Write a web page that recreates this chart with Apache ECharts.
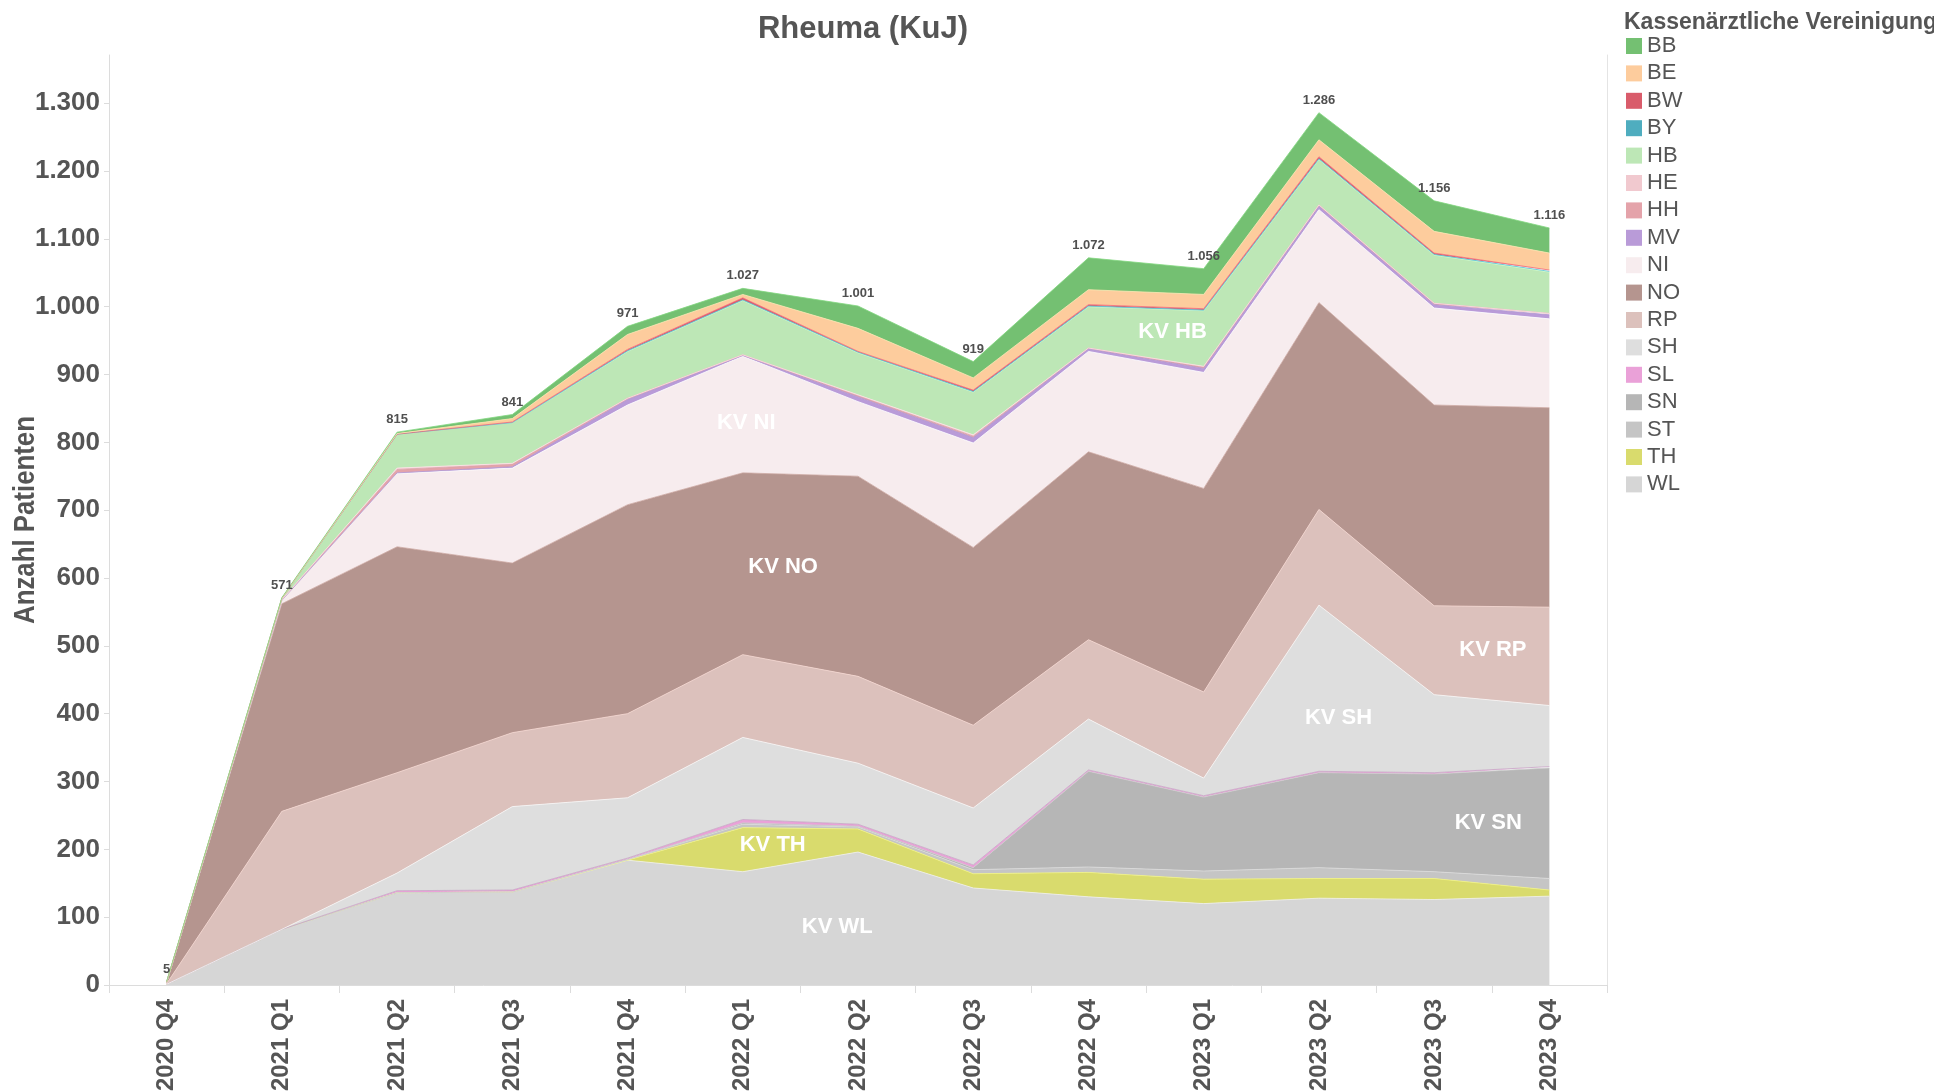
<!DOCTYPE html>
<html>
<head>
<meta charset="utf-8">
<title>Rheuma (KuJ)</title>
<script src="https://cdn.jsdelivr.net/npm/echarts@6/dist/echarts.min.js"></script>
<style>
  html, body { margin: 0; padding: 0; background: #ffffff; }
  #chart { width: 1934px; height: 1092px; }
</style>
</head>
<body>
<div id="chart"></div>
<script>
// Quarters on the x axis
const quarters = ['2020 Q4', '2021 Q1', '2021 Q2', '2021 Q3', '2021 Q4', '2022 Q1', '2022 Q2',
                  '2022 Q3', '2022 Q4', '2023 Q1', '2023 Q2', '2023 Q3', '2023 Q4'];

// Patients per Kassenärztliche Vereinigung and quarter
const WL = [1, 82, 136, 137, 184, 167, 196, 143, 130, 120, 128, 126, 131];
const TH = [0, 0, 0, 0, 0, 65, 34, 21, 36, 36, 29, 31, 9];
const ST = [0, 0, 0, 0, 1, 5, 3, 6, 8, 12, 16, 10, 17];
const SN = [0, 0, 0, 0, 0, 2, 1, 3, 141, 109, 140, 144, 163];
const SL = [0, 0, 3, 3, 2, 5, 3, 4, 2, 2, 2, 2, 2];
const SH = [0, 0, 26, 123, 89, 121, 90, 84, 75, 26, 245, 115, 90];
const RP = [1, 174, 148, 109, 124, 122, 128, 122, 117, 127, 141, 131, 145];
const NO = [2, 306, 333, 250, 308, 268, 295, 262, 277, 300, 305, 296, 294];
const NI = [0, 5, 108, 140, 147, 172, 110, 154, 148, 171, 137, 143, 131];
const MV = [0, 0, 1, 2, 8, 1, 7, 8, 4, 6, 5, 5, 6];
const HH = [0, 1, 5, 4, 2, 1, 2, 2, 1, 2, 2, 2, 2];
const HE = [0, 0, 2, 1, 0, 0, 1, 2, 0, 1, 0, 0, 0];
const HB = [0, 2, 50, 60, 69, 80, 62, 63, 61, 82, 67, 71, 61];
const BY = [0, 0, 0, 0, 1, 1, 1, 1, 1, 1, 1, 1, 1];
const BW = [0, 0, 0, 1, 2, 3, 1, 2, 2, 2, 3, 2, 2];
const BE = [0, 0, 1, 5, 22, 5, 34, 18, 22, 21, 25, 32, 25];
const BB = [1, 1, 2, 6, 12, 9, 33, 24, 47, 38, 40, 45, 37];

// Y axis ticks
const yTicks = [0, 100, 200, 300, 400, 500, 600, 700, 800, 900, 1000, 1100, 1200, 1300];

// Stacking order, bottom to top
const stackOrder = [
  ['WL', WL], ['TH', TH], ['ST', ST], ['SN', SN], ['SL', SL], ['SH', SH], ['RP', RP],
  ['NO', NO], ['NI', NI], ['MV', MV], ['HH', HH], ['HE', HE], ['HB', HB], ['BY', BY],
  ['BW', BW], ['BE', BE], ['BB', BB]
];

// Legend lists the regions alphabetically
const legendOrder = ['BB', 'BE', 'BW', 'BY', 'HB', 'HE', 'HH', 'MV', 'NI', 'NO', 'RP', 'SH', 'SL', 'SN', 'ST', 'TH', 'WL'];

const kvColors = {
  BB: '#74c072', BE: '#fdcc9d', BW: '#d95c6b', BY: '#4fadbf', HB: '#bde7b6', HE: '#f1c9cf',
  HH: '#e4a3aa', MV: '#b99bd8', NI: '#f7ecee', NO: '#b5958f', RP: '#dcc1bc', SH: '#dedede',
  SL: '#eaa1d8', SN: '#b6b6b6', ST: '#c5c5c5', TH: '#d9db6d', WL: '#d6d6d6'
};

// Edge colours where a thin band needs a softer outline
const edgeColors = { SL: '#c7a3c4', HH: '#d9a3ab', MV: '#b196cf' };

// In-area region names, placed at [category position, value]
const areaNotes = [
  { text: 'KV NI', at: 5.03, value: 829 },
  { text: 'KV NO', at: 5.35, value: 617 },
  { text: 'KV TH', at: 5.26, value: 206 },
  { text: 'KV WL', at: 5.82, value: 86 },
  { text: 'KV HB', at: 8.73, value: 963 },
  { text: 'KV SH', at: 10.17, value: 394 },
  { text: 'KV RP', at: 11.51, value: 494 },
  { text: 'KV SN', at: 11.47, value: 239 }
];

const FONT = "'Liberation Sans', Arial, Helvetica, sans-serif";
const TEXT = '#555555';
const Y_MAX = 1371;

const totals = quarters.map((_, i) => stackOrder.reduce((s, [, arr]) => s + arr[i], 0));
const fmtDE = v => String(v).replace(/\B(?=(\d{3})+(?!\d))/g, '.');

const series = stackOrder.map(([name, values], idx) => {
  const isTop = idx === stackOrder.length - 1;
  return {
    name: name,
    type: 'line',
    stack: 'kv',
    data: values,
    color: kvColors[name],
    symbol: isTop ? 'circle' : 'none',
    symbolSize: 0,
    showSymbol: isTop,
    lineStyle: { width: 0.8, color: edgeColors[name] || echarts.color.lift(kvColors[name], -0.12) },
    areaStyle: { color: kvColors[name], opacity: 1 },
    emphasis: { disabled: true },
    label: isTop ? {
      show: true,
      position: 'top',
      distance: 6,
      fontFamily: FONT,
      fontSize: 13,
      fontWeight: 'bold',
      color: '#505050',
      formatter: p => fmtDE(totals[p.dataIndex])
    } : { show: false }
  };
});

const chart = echarts.init(document.getElementById('chart'), null, { renderer: 'canvas' });

chart.setOption({
  animation: false,
  backgroundColor: '#ffffff',
  textStyle: { fontFamily: FONT },
  title: [
    {
      text: 'Rheuma (KuJ)',
      left: 858,
      top: 9,
      textAlign: 'center',
      textStyle: { fontFamily: FONT, fontSize: 31, fontWeight: 'bold', color: TEXT }
    },
    {
      text: 'Kassenärztliche Vereinigung',
      left: 1619,
      top: 6,
      textStyle: { fontFamily: FONT, fontSize: 23, fontWeight: 'bold', color: TEXT }
    }
  ],
  legend: {
    orient: 'vertical',
    left: 1621,
    top: 30,
    icon: 'rect',
    itemWidth: 16,
    itemHeight: 16,
    itemGap: 5.4,
    selectedMode: false,
    data: legendOrder,
    itemStyle: { borderWidth: 0 },
    textStyle: { fontFamily: FONT, fontSize: 22, color: TEXT, padding: [0, 0, 0, 0] }
  },
  grid: {
    left: 109, right: 327, top: 55, bottom: 107,
    containLabel: false,
    outerBoundsMode: 'none'
  },
  xAxis: {
    type: 'category',
    data: quarters,
    boundaryGap: true,
    axisLine: { lineStyle: { color: '#dcdcdc', width: 1 } },
    axisTick: { show: true, length: 8, lineStyle: { color: '#dcdcdc' } },
    axisLabel: {
      rotate: 90,
      margin: 14,
      interval: 0,
      fontFamily: FONT,
      fontSize: 24,
      fontWeight: 'bold',
      color: TEXT
    },
    splitLine: { show: false }
  },
  yAxis: [
    {
      type: 'value',
      min: 0,
      max: Y_MAX,
      interval: 100,
      axisLine: { show: true, lineStyle: { color: '#dcdcdc', width: 1 } },
      axisTick: { show: true, length: 5, lineStyle: { color: '#dcdcdc' } },
      axisLabel: {
        margin: 9,
        showMaxLabel: false,
        fontFamily: FONT,
        fontSize: 26,
        fontWeight: 'bold',
        color: TEXT,
        formatter: v => (yTicks.includes(v) ? fmtDE(v) : '')
      },
      splitLine: { show: false }
    },
    {
      type: 'value',
      min: 0,
      max: Y_MAX,
      position: 'right',
      axisLine: { show: true, lineStyle: { color: '#e4e4e4', width: 1 } },
      axisTick: { show: false },
      axisLabel: { show: false },
      splitLine: { show: false }
    }
  ],
  series: series
});

// Pixel position of a fractional category index and a value
const px = (at, value) => {
  const i0 = Math.floor(at), i1 = Math.min(i0 + 1, quarters.length - 1);
  const f = at - i0;
  const p0 = chart.convertToPixel({ gridIndex: 0 }, [i0, value]);
  const p1 = chart.convertToPixel({ gridIndex: 0 }, [i1, value]);
  return [p0[0] + (p1[0] - p0[0]) * f, p0[1]];
};

// Region names inside their areas
const notes = areaNotes.map(n => {
  const [x, y] = px(n.at, n.value);
  return {
    type: 'text',
    x: x,
    y: y,
    z: 100,
    silent: true,
    style: {
      text: n.text,
      fill: '#ffffff',
      fontFamily: FONT,
      fontSize: 22,
      fontWeight: 'bold',
      align: 'center',
      verticalAlign: 'middle'
    }
  };
});

// Condensed, rotated y axis title centred on the plot height
const yTitle = {
  type: 'text',
  x: 26,
  y: (px(0, 0)[1] + px(0, Y_MAX)[1]) / 2,
  rotation: Math.PI / 2,
  scaleX: 0.89,
  silent: true,
  style: {
    text: 'Anzahl Patienten',
    fill: TEXT,
    fontFamily: FONT,
    fontSize: 29,
    fontWeight: 'bold',
    align: 'center',
    verticalAlign: 'middle'
  }
};

chart.setOption({ graphic: notes.concat([yTitle]) });
</script>
</body>
</html>
